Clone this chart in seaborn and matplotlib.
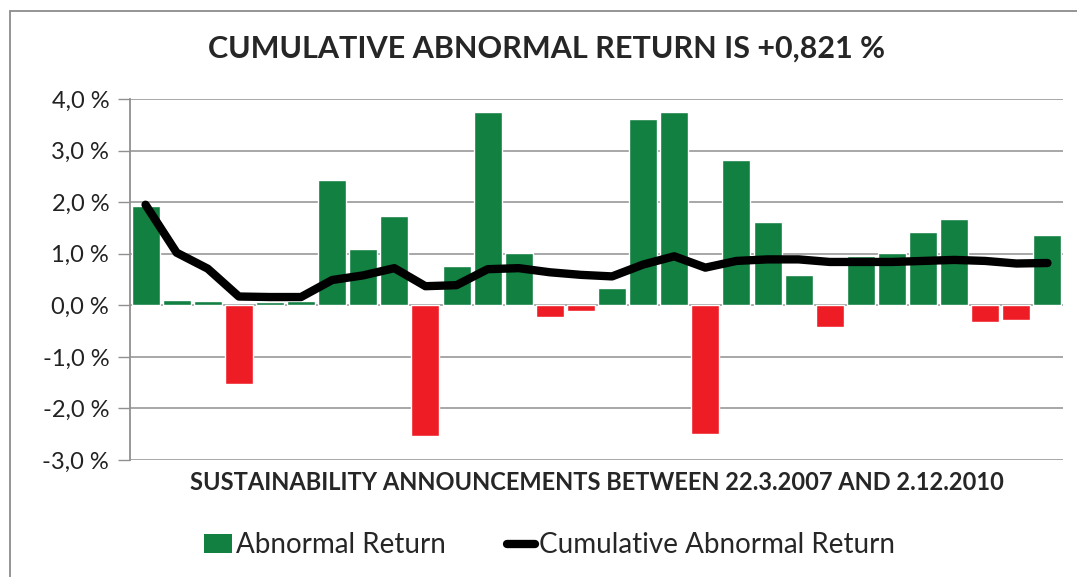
import numpy as np
import pandas as pd
import matplotlib
matplotlib.use("Agg")
import matplotlib.pyplot as plt
from matplotlib.patches import Patch, Rectangle
from matplotlib.lines import Line2D
import seaborn as sns

# data (percent)
announcement = list(range(1, 31))
abnormal_return = [1.93, 0.10, 0.08, -1.53, 0.07, 0.08, 2.42, 1.10, 1.73, -2.53,
                   0.76, 3.75, 1.01, -0.23, -0.12, 0.33, 3.61, 3.75, -2.50, 2.81,
                   1.61, 0.59, -0.42, 0.96, 1.01, 1.42, 1.68, -0.33, -0.28, 1.36]
cumulative_return = [1.95, 1.02, 0.71, 0.17, 0.16, 0.16, 0.49, 0.58, 0.72, 0.37,
                     0.39, 0.70, 0.72, 0.64, 0.59, 0.56, 0.79, 0.95, 0.73, 0.86,
                     0.89, 0.89, 0.84, 0.84, 0.84, 0.86, 0.88, 0.86, 0.81, 0.82]
y_ticks = [-3, -2, -1, 0, 1, 2, 3, 4]

GREEN = "#118040"
RED = "#EE1D25"

df = pd.DataFrame({"n": announcement, "ar": abnormal_return, "car": cumulative_return})
df["pos"] = np.arange(len(df))
bar_colors = [GREEN if v >= 0 else RED for v in df["ar"]]

sns.set_style("white")
plt.rcParams["font.family"] = ["Lato", "DejaVu Sans"]

fig = plt.figure(figsize=(10.77, 5.77), dpi=100)
ax = fig.add_axes([0.1207, 0.2028, 0.8663, 0.6256])

sns.barplot(data=df, x="pos", y="ar", hue="pos", palette=bar_colors,
            legend=False, width=0.9, saturation=1, ax=ax, zorder=2)
sns.lineplot(data=df, x="pos", y="car", color="black", linewidth=6,
             solid_capstyle="round", ax=ax, zorder=3)

ax.set_xlim(-0.5, len(df) - 0.5)
ax.set_ylim(-3, 4)
ax.set_yticks(y_ticks)
ax.set_yticklabels([f"{t:.1f} %".replace(".", ",") for t in y_ticks], fontsize=17)
ax.yaxis.grid(True, color="#A0A0A0", linewidth=1.3, zorder=0)
ax.set_axisbelow(True)
ax.set_xticks([])
ax.tick_params(axis="y", which="both", left=True, length=9, width=1, color="#909090",
               pad=6, labelcolor="#222222")
for side in ["top", "right", "bottom"]:
    ax.spines[side].set_visible(False)
ax.spines["left"].set_color("#909090")
ax.spines["left"].set_linewidth(1.3)

ax.set_ylabel("")
ax.set_xlabel("SUSTAINABILITY ANNOUNCEMENTS BETWEEN 22.3.2007 AND 2.12.2010",
              fontsize=17, fontweight="bold", labelpad=8)

fig.text(0.507, 0.915, "CUMULATIVE ABNORMAL RETURN IS +0,821 %",
         ha="center", va="center", fontsize=22, fontweight="bold")

handles = [Patch(facecolor=GREEN, edgecolor="none", label="Abnormal Return"),
           Line2D([0], [0], color="black", linewidth=6, label="Cumulative Abnormal Return")]
fig.legend(handles=handles, loc="center", bbox_to_anchor=(0.51, 0.055), ncol=2,
           frameon=False, fontsize=20, handlelength=1.0, handletextpad=0.15,
           columnspacing=2.2)

# chart border, as in the cropped source
fig.patches.append(Rectangle((10 / 1077, -0.1), 1.2, 1 - 11 / 577 + 0.1,
                             transform=fig.transFigure, fill=False,
                             edgecolor="#8C8C8C", linewidth=1.3))

fig.savefig("out.png", dpi=100, facecolor="white")
